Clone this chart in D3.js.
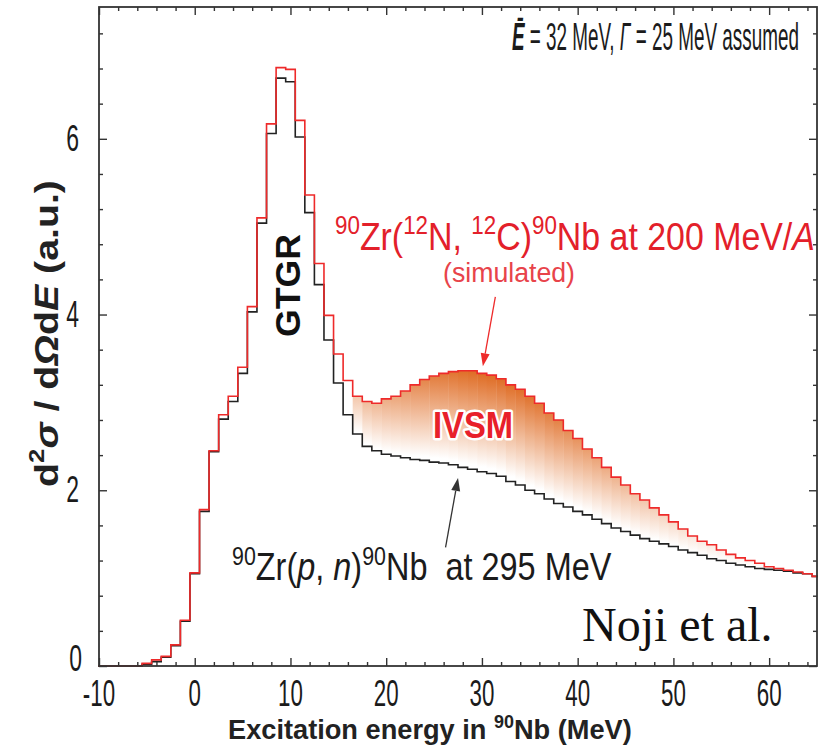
<!DOCTYPE html>
<html>
<head>
<meta charset="utf-8">
<script src="https://cdn.jsdelivr.net/npm/d3@7"></script>
<style>
  body { margin: 0; background: #fff; }
  svg { display: block; }
  text { white-space: pre; }
</style>
</head>
<body>
<div id="chart"></div>
<script>
// bin centres in MeV (1 MeV wide bins)
const energy = [-10, -9, -8, -7, -6, -5, -4, -3, -2, -1, 0, 1, 2, 3, 4, 5, 6, 7, 8, 9,
  10, 11, 12, 13, 14, 15, 16, 17, 18, 19, 20, 21, 22, 23, 24, 25, 26, 27, 28, 29,
  30, 31, 32, 33, 34, 35, 36, 37, 38, 39, 40, 41, 42, 43, 44, 45, 46, 47, 48, 49,
  50, 51, 52, 53, 54, 55, 56, 57, 58, 59, 60, 61, 62, 63, 64, 65];

// 90Zr(p,n) at 295 MeV (black)
const pnValues = [0, 0, 0, 0, 0, 0.02, 0.05, 0.10, 0.23, 0.51, 1.05, 1.76, 2.44, 2.81, 3.01, 3.33, 4.03, 5.04, 6.06, 6.69,
  6.65, 6.02, 5.16, 4.34, 3.71, 3.22, 2.86, 2.64, 2.50, 2.45, 2.41, 2.39, 2.37, 2.35, 2.34, 2.32, 2.31, 2.29, 2.26, 2.24,
  2.21, 2.19, 2.16, 2.10, 2.06, 2.00, 1.96, 1.90, 1.85, 1.81, 1.76, 1.72, 1.67, 1.62, 1.57, 1.53, 1.49, 1.45, 1.42, 1.39,
  1.36, 1.32, 1.29, 1.26, 1.22, 1.20, 1.17, 1.15, 1.13, 1.11, 1.10, 1.09, 1.08, 1.06, 1.05, 1.02];

// 90Zr(12N,12C) simulated (red)
const simValues = [0, 0, 0, 0, 0, 0.03, 0.07, 0.11, 0.24, 0.52, 1.06, 1.78, 2.45, 2.86, 3.07, 3.40, 4.09, 5.10, 6.17, 6.81,
  6.79, 6.21, 5.36, 4.58, 3.99, 3.55, 3.25, 3.07, 3.01, 2.99, 3.04, 3.07, 3.13, 3.20, 3.26, 3.30, 3.33, 3.35, 3.36, 3.36,
  3.33, 3.31, 3.27, 3.20, 3.15, 3.07, 2.99, 2.88, 2.80, 2.68, 2.59, 2.47, 2.37, 2.26, 2.15, 2.06, 1.96, 1.89, 1.80, 1.72,
  1.64, 1.56, 1.48, 1.42, 1.38, 1.32, 1.27, 1.23, 1.20, 1.17, 1.13, 1.11, 1.09, 1.07, 1.05, 1.02];

const xTicks = [-10, 0, 10, 20, 30, 40, 50, 60];
const yTicks = [0, 2, 4, 6];
const ivsmFrom = 17; // first bin of the shaded IVSM band

const W = 821, H = 746;
const margin = {top: 7, right: 4, bottom: 80, left: 99},
    width = W - margin.left - margin.right,
    height = H - margin.top - margin.bottom;

const SANS = "'Liberation Sans', Arial, Helvetica, sans-serif";
const RED = "#ee2a2a", TXTRED = "#e3202a", INK = "#1b1b1b", AX = "#333";
const SQ = 0.62; // the original figure is stretched vertically, text looks condensed

const root = d3.select("#chart").append("svg")
    .attr("width", W).attr("height", H)
    .style("font-family", SANS);
const defs = root.append("defs");
const svg = root.append("g")
    .attr("transform", `translate(${margin.left},${margin.top})`);

const x = d3.scaleLinear().domain([-10, 65]).range([0, width]);
const y = d3.scaleLinear().domain([0, 7.5]).range([height, 0]);

defs.append("clipPath").attr("id", "plotclip")
  .append("rect").attr("x", -1).attr("y", -1).attr("width", width + 2).attr("height", height + 2);

// ---- IVSM band: per-bin vertical gradient, strength follows the excess
const excess = energy.map((e, i) => simValues[i] - pnValues[i]);
const maxExcess = d3.max(energy.map((e, i) => e >= ivsmFrom ? excess[i] : 0));
const orange = d3.interpolateRgb("#ffffff", "#df6c24");
const band = energy.map((e, i) => ({e, i})).filter(d => d.e >= ivsmFrom);

band.forEach(d => {
  const gr = defs.append("linearGradient").attr("id", "ivsm" + d.i)
    .attr("x1", 0).attr("y1", 0).attr("x2", 0).attr("y2", 1);
  gr.append("stop").attr("offset", 0).attr("stop-color", orange(Math.max(0, excess[d.i]) / maxExcess));
  gr.append("stop").attr("offset", 0.95).attr("stop-color", "#ffffff");
});

svg.append("g").attr("clip-path", "url(#plotclip)")
  .selectAll("rect").data(band).join("rect")
    .attr("x", d => x(d.e - 0.5))
    .attr("width", d => x(d.e + 0.5) - x(d.e - 0.5) + 0.4)
    .attr("y", d => y(simValues[d.i]))
    .attr("height", d => Math.max(0, y(pnValues[d.i]) - y(simValues[d.i])))
    .attr("fill", d => `url(#ivsm${d.i})`);

// ---- histograms
function steps(vals) {
  const pts = [];
  energy.forEach((e, i) => { pts.push([e - 0.5, vals[i]]); pts.push([e + 0.5, vals[i]]); });
  return pts;
}
const line = d3.line().x(d => x(d[0])).y(d => y(d[1]));

svg.append("path").datum(steps(pnValues))
  .attr("clip-path", "url(#plotclip)")
  .attr("d", line).attr("fill", "none").attr("stroke", "#222").attr("stroke-width", 1.6);
svg.append("path").datum(steps(simValues))
  .attr("clip-path", "url(#plotclip)")
  .attr("d", line).attr("fill", "none").attr("stroke", RED).attr("stroke-width", 1.6);

// ---- frame and ticks (inward on all sides)
const minorX = d3.range(-10, 66, 2).filter(v => !xTicks.includes(v));
const minorY = d3.range(0.4, 7.5, 0.4).filter(v => Math.abs(v / 2 - Math.round(v / 2)) > 1e-6);

function ticks(axis, tr) {
  const g = svg.append("g").attr("transform", tr).call(axis.tickFormat("").tickSizeOuter(0));
  g.select(".domain").remove();
  g.selectAll("line").attr("stroke", AX).attr("stroke-width", 1.4);
}
ticks(d3.axisBottom(x).tickValues(xTicks).tickSize(-8), `translate(0,${height})`);
ticks(d3.axisBottom(x).tickValues(minorX).tickSize(-4), `translate(0,${height})`);
ticks(d3.axisTop(x).tickValues(xTicks).tickSize(-8), "translate(0,0)");
ticks(d3.axisTop(x).tickValues(minorX).tickSize(-4), "translate(0,0)");
ticks(d3.axisLeft(y).tickValues(yTicks).tickSize(-8), "translate(0,0)");
ticks(d3.axisLeft(y).tickValues(minorY).tickSize(-4), "translate(0,0)");
ticks(d3.axisRight(y).tickValues(yTicks).tickSize(-8), `translate(${width},0)`);
ticks(d3.axisRight(y).tickValues(minorY).tickSize(-4), `translate(${width},0)`);

svg.append("rect").attr("width", width).attr("height", height)
  .attr("fill", "none").attr("stroke", AX).attr("stroke-width", 1.8);

// tick labels, condensed
svg.append("g").selectAll("g").data(xTicks).join("g")
    .attr("transform", d => `translate(${x(d)},${height + 40}) scale(${SQ},1)`)
  .append("text")
    .attr("text-anchor", "middle").attr("font-size", 36).attr("fill", INK)
    .text(d => d);

svg.append("g").selectAll("g").data(yTicks).join("g")
    .attr("transform", d => `translate(${d === 0 ? -17 : -20},${y(d) + (d === 0 ? 5 : 12)}) scale(${SQ},1)`)
  .append("text")
    .attr("text-anchor", "end").attr("font-size", 37).attr("fill", INK)
    .text(d => d);

// ---- rich text helper (superscripts / italics)
function rich(g, parts, size, opts = {}) {
  const t = g.append("text").attr("font-size", size)
    .attr("fill", opts.fill || INK)
    .attr("font-weight", opts.bold ? "bold" : null);
  let shift = 0;
  parts.forEach(p => {
    const target = p.sup ? -size * 0.4 : 0;
    const ts = t.append("tspan").text(p.t).attr("dy", target - shift);
    shift = target;
    if (p.sup) ts.attr("font-size", size * 0.66);
    if (p.it) ts.attr("font-style", "italic");
    if (p.bold) ts.attr("font-weight", "bold");
  });
  return t;
}
// place a group so that its text spans targetW pixels
function place(g, px, py, targetW, rot) {
  const w = g.node().getBBox().width;
  const s = targetW / w;
  g.attr("transform", `translate(${px},${py})` + (rot ? ` rotate(${rot})` : "") + ` scale(${s},1)`);
}

const ann = root.append("g");

let g = ann.append("g");
rich(g, [{t: "Ē", it: 1, bold: 1}, {t: " = 32 MeV, "}, {t: "Γ", it: 1}, {t: " = 25 MeV assumed"}], 39);
place(g, 512, 50, 287);

g = ann.append("g");
rich(g, [{t: "90", sup: 1}, {t: "Zr("}, {t: "12", sup: 1}, {t: "N, "}, {t: "12", sup: 1}, {t: "C)"},
  {t: "90", sup: 1}, {t: "Nb at 200 MeV/"}, {t: "A", it: 1}], 39, {fill: TXTRED});
place(g, 335, 250, 480);

g = ann.append("g");
rich(g, [{t: "(simulated)"}], 28, {fill: "#e8434a"});
place(g, 443, 282, 132);

g = ann.append("g");
rich(g, [{t: "IVSM"}], 36, {fill: "#e8202a", bold: 1})
  .attr("stroke", "#fff").attr("stroke-width", 5).attr("stroke-linejoin", "round")
  .attr("paint-order", "stroke");
place(g, 433, 438, 80);

g = ann.append("g");
rich(g, [{t: "90", sup: 1}, {t: "Zr("}, {t: "p", it: 1}, {t: ", "}, {t: "n", it: 1}, {t: ")"},
  {t: "90", sup: 1}, {t: "Nb  at 295 MeV"}], 38);
place(g, 232, 580, 380);

g = ann.append("g");
rich(g, [{t: "Excitation energy in "}, {t: "90", sup: 1}, {t: "Nb (MeV)"}], 28, {bold: 1, fill: "#222"});
place(g, 228, 739, 404);

// rotated labels
g = ann.append("g");
rich(g, [{t: "d"}, {t: "2", sup: 1}, {t: "σ", it: 1}, {t: " / d"}, {t: "Ω", it: 1}, {t: "d"}, {t: "E", it: 1},
  {t: " (a.u.)"}], 34, {bold: 1, fill: "#222"});
place(g, 58, 487, 307, -90);

g = ann.append("g");
rich(g, [{t: "GTGR"}], 35, {bold: 1, fill: "#111"});
place(g, 300, 337, 103, -90);

ann.append("text")
  .attr("x", 582).attr("y", 641)
  .style("font-family", "'Liberation Serif', 'Times New Roman', serif")
  .attr("font-size", 48).attr("fill", "#111")
  .text("Noji et al.");

// ---- arrows, anchored in data coordinates
function arrow(from, to, color) {
  const x1 = x(from[0]) + margin.left, y1 = y(from[1]) + margin.top;
  const x2 = x(to[0]) + margin.left, y2 = y(to[1]) + margin.top;
  const a = Math.atan2(y2 - y1, x2 - x1), L = 13, hw = 4.5;
  const bx = x2 - L * Math.cos(a), by = y2 - L * Math.sin(a);
  ann.append("line").attr("x1", x1).attr("y1", y1).attr("x2", bx).attr("y2", by)
    .attr("stroke", color).attr("stroke-width", 1.3);
  ann.append("path")
    .attr("d", `M${x2},${y2}L${bx + hw * Math.sin(a)},${by - hw * Math.cos(a)}L${bx - hw * Math.sin(a)},${by + hw * Math.cos(a)}Z`)
    .attr("fill", color);
}
arrow([31.4, 4.2], [30.1, 3.41], RED);
arrow([26.2, 1.35], [27.5, 2.14], "#333");
</script>
</body>
</html>
